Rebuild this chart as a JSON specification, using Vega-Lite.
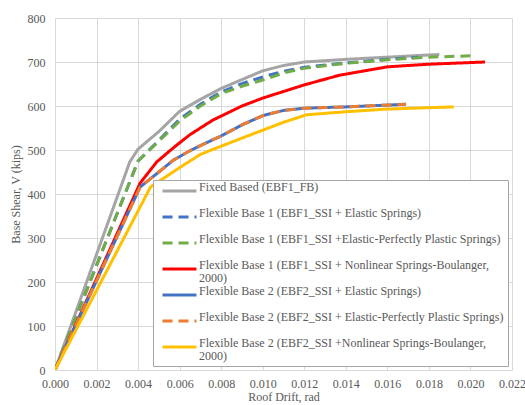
{
  "$schema": "https://vega.github.io/schema/vega-lite/v6.json",
  "width": 457,
  "height": 352,
  "autosize": {"type": "none"},
  "padding": {"left": 55, "top": 18, "right": 13, "bottom": 35},
  "background": "white",
  "config": {
    "view": {"stroke": null},
    "font": "Liberation Serif, Times New Roman, serif",
    "axis": {
      "labelFont": "Liberation Serif, Times New Roman, serif",
      "titleFont": "Liberation Serif, Times New Roman, serif",
      "labelFontSize": 12,
      "titleFontSize": 12,
      "labelColor": "#595959",
      "titleColor": "#595959",
      "titleFontWeight": "normal",
      "gridColor": "#d9d9d9",
      "domainColor": "#d9d9d9",
      "ticks": false,
      "labelFlush": false
    },
    "legend": {
      "labelFont": "Liberation Serif, Times New Roman, serif",
      "labelFontSize": 12,
      "labelColor": "#595959"
    }
  },
  "data": {
    "values": [
      {"s": "FB", "x": 0, "y": 0},
      {"s": "FB", "x": 0.0036, "y": 473},
      {"s": "FB", "x": 0.004, "y": 502},
      {"s": "FB", "x": 0.005, "y": 542},
      {"s": "FB", "x": 0.006, "y": 588},
      {"s": "FB", "x": 0.007, "y": 615},
      {"s": "FB", "x": 0.008, "y": 640},
      {"s": "FB", "x": 0.009, "y": 660},
      {"s": "FB", "x": 0.010, "y": 680},
      {"s": "FB", "x": 0.011, "y": 692},
      {"s": "FB", "x": 0.012, "y": 700},
      {"s": "FB", "x": 0.014, "y": 706},
      {"s": "FB", "x": 0.016, "y": 711},
      {"s": "FB", "x": 0.018, "y": 716},
      {"s": "FB", "x": 0.0185, "y": 717},
      {"s": "B1E", "x": 0, "y": 0},
      {"s": "B1E", "x": 0.0035, "y": 416},
      {"s": "B1E", "x": 0.004, "y": 475},
      {"s": "B1E", "x": 0.005, "y": 522},
      {"s": "B1E", "x": 0.006, "y": 570},
      {"s": "B1E", "x": 0.007, "y": 604},
      {"s": "B1E", "x": 0.008, "y": 632},
      {"s": "B1E", "x": 0.009, "y": 651},
      {"s": "B1E", "x": 0.010, "y": 666},
      {"s": "B1E", "x": 0.011, "y": 679},
      {"s": "B1E", "x": 0.012, "y": 688},
      {"s": "B1E", "x": 0.014, "y": 698},
      {"s": "B1E", "x": 0.016, "y": 706},
      {"s": "B1E", "x": 0.0175, "y": 711},
      {"s": "B1P", "x": 0, "y": 0},
      {"s": "B1P", "x": 0.0035, "y": 416},
      {"s": "B1P", "x": 0.004, "y": 475},
      {"s": "B1P", "x": 0.005, "y": 520},
      {"s": "B1P", "x": 0.006, "y": 566},
      {"s": "B1P", "x": 0.007, "y": 600},
      {"s": "B1P", "x": 0.008, "y": 628},
      {"s": "B1P", "x": 0.009, "y": 645},
      {"s": "B1P", "x": 0.010, "y": 659},
      {"s": "B1P", "x": 0.011, "y": 675},
      {"s": "B1P", "x": 0.012, "y": 686},
      {"s": "B1P", "x": 0.014, "y": 697},
      {"s": "B1P", "x": 0.016, "y": 705},
      {"s": "B1P", "x": 0.018, "y": 711},
      {"s": "B1P", "x": 0.020, "y": 714},
      {"s": "B1N", "x": 0, "y": 0},
      {"s": "B1N", "x": 0.0041, "y": 425},
      {"s": "B1N", "x": 0.0049, "y": 473},
      {"s": "B1N", "x": 0.0057, "y": 505},
      {"s": "B1N", "x": 0.0065, "y": 535},
      {"s": "B1N", "x": 0.0076, "y": 568},
      {"s": "B1N", "x": 0.009, "y": 600},
      {"s": "B1N", "x": 0.010, "y": 618},
      {"s": "B1N", "x": 0.011, "y": 633},
      {"s": "B1N", "x": 0.012, "y": 648},
      {"s": "B1N", "x": 0.0137, "y": 670},
      {"s": "B1N", "x": 0.016, "y": 689},
      {"s": "B1N", "x": 0.018, "y": 695},
      {"s": "B1N", "x": 0.0207, "y": 700},
      {"s": "B2E", "x": 0, "y": 0},
      {"s": "B2E", "x": 0.0041, "y": 416},
      {"s": "B2E", "x": 0.005, "y": 450},
      {"s": "B2E", "x": 0.0057, "y": 477},
      {"s": "B2E", "x": 0.0064, "y": 496},
      {"s": "B2E", "x": 0.007, "y": 510},
      {"s": "B2E", "x": 0.008, "y": 532},
      {"s": "B2E", "x": 0.009, "y": 557},
      {"s": "B2E", "x": 0.010, "y": 578},
      {"s": "B2E", "x": 0.011, "y": 590},
      {"s": "B2E", "x": 0.012, "y": 595},
      {"s": "B2E", "x": 0.014, "y": 598},
      {"s": "B2E", "x": 0.016, "y": 602},
      {"s": "B2E", "x": 0.0169, "y": 604},
      {"s": "B2P", "x": 0, "y": 0},
      {"s": "B2P", "x": 0.0041, "y": 416},
      {"s": "B2P", "x": 0.005, "y": 450},
      {"s": "B2P", "x": 0.0057, "y": 477},
      {"s": "B2P", "x": 0.0064, "y": 496},
      {"s": "B2P", "x": 0.007, "y": 510},
      {"s": "B2P", "x": 0.008, "y": 532},
      {"s": "B2P", "x": 0.009, "y": 557},
      {"s": "B2P", "x": 0.010, "y": 578},
      {"s": "B2P", "x": 0.011, "y": 590},
      {"s": "B2P", "x": 0.012, "y": 595},
      {"s": "B2P", "x": 0.014, "y": 598},
      {"s": "B2P", "x": 0.016, "y": 602},
      {"s": "B2P", "x": 0.0169, "y": 604},
      {"s": "B2N", "x": 0, "y": 0},
      {"s": "B2N", "x": 0.0046, "y": 416},
      {"s": "B2N", "x": 0.006, "y": 460},
      {"s": "B2N", "x": 0.007, "y": 490},
      {"s": "B2N", "x": 0.0078, "y": 505},
      {"s": "B2N", "x": 0.009, "y": 527},
      {"s": "B2N", "x": 0.010, "y": 545},
      {"s": "B2N", "x": 0.011, "y": 563},
      {"s": "B2N", "x": 0.0121, "y": 580},
      {"s": "B2N", "x": 0.014, "y": 587},
      {"s": "B2N", "x": 0.016, "y": 593},
      {"s": "B2N", "x": 0.0192, "y": 598}
    ]
  },
  "mark": {"type": "line", "strokeWidth": 3, "clip": true},
  "encoding": {
    "x": {
      "field": "x", "type": "quantitative",
      "scale": {"domain": [0, 0.022], "nice": false},
      "axis": {"title": "Roof Drift, rad", "format": ".3f", "values": [0, 0.002, 0.004, 0.006, 0.008, 0.01, 0.012, 0.014, 0.016, 0.018, 0.02, 0.022], "labelPadding": 8, "titlePadding": 2}
    },
    "y": {
      "field": "y", "type": "quantitative",
      "scale": {"domain": [0, 800], "nice": false},
      "axis": {"title": "Base Shear, V (kips)", "values": [0, 100, 200, 300, 400, 500, 600, 700, 800], "labelPadding": 10, "titlePadding": 5}
    },
    "color": {
      "field": "s", "type": "nominal",
      "scale": {
        "domain": ["FB", "B1E", "B1P", "B1N", "B2E", "B2P", "B2N"],
        "range": ["#A5A5A5", "#4472C4", "#70AD47", "#FF0000", "#4472C4", "#ED7D31", "#FFC000"]
      },
      "legend": {
        "title": null,
        "orient": "bottom-right",
        "offset": 4,
        "symbolType": "M-0.27,0H5.9",
        "symbolSize": 121,
        "symbolStrokeWidth": 3,
        "labelOffset": 28,
        "labelLimit": 420,
        "rowPadding": 1,
        "gridAlign": "all",
        "strokeColor": "#a6a6a6",
        "fillColor": "white",
        "padding": 4,
        "labelBaseline": "alphabetic",
        "encode": {"labels": {"update": {"lineHeight": {"value": 13}}}},
        "labelExpr": "datum.value == 'FB' ? 'Fixed Based (EBF1_FB)' : datum.value == 'B1E' ? 'Flexible Base 1 (EBF1_SSI + Elastic Springs)' : datum.value == 'B1P' ? 'Flexible Base 1 (EBF1_SSI +Elastic-Perfectly Plastic Springs)' : datum.value == 'B1N' ? ['Flexible Base 1 (EBF1_SSI + Nonlinear Springs-Boulanger,', '2000)'] : datum.value == 'B2E' ? 'Flexible Base 2 (EBF2_SSI + Elastic Springs)' : datum.value == 'B2P' ? 'Flexible Base 2 (EBF2_SSI + Elastic-Perfectly Plastic Springs)' : ['Flexible Base 2 (EBF2_SSI +Nonlinear Springs-Boulanger,', '2000)']"
      }
    },
    "strokeDash": {
      "field": "s", "type": "nominal",
      "scale": {
        "domain": ["FB", "B1E", "B1P", "B1N", "B2E", "B2P", "B2N"],
        "range": [[1, 0], [10, 6], [10, 6], [1, 0], [1, 0], [10, 6], [1, 0]]
      },
      "legend": null
    }
  }
}
